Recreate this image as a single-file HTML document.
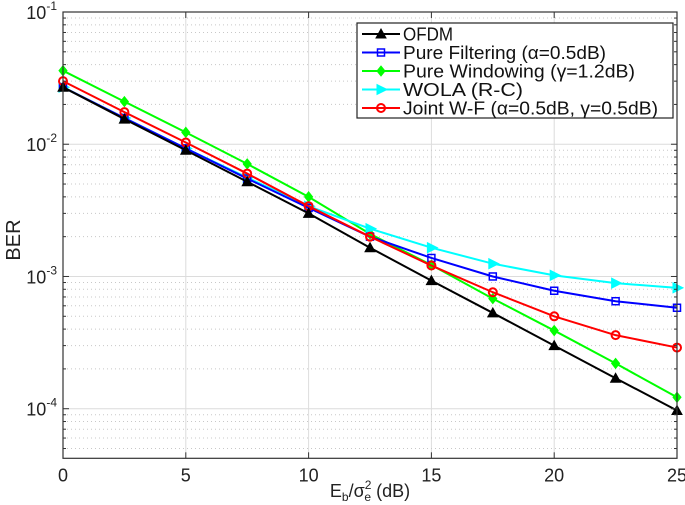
<!DOCTYPE html>
<html><head><meta charset="utf-8"><style>
body{margin:0;background:#fff;}
svg{display:block;font-family:"Liberation Sans",Arial,sans-serif;}
</style></head><body>
<svg id="chart" width="685" height="505" viewBox="0 0 685 505">
<g id="grid"></g>
<g id="series"></g>
<g id="axes"></g>
<g id="legend"></g>
</svg>
<script>
const xValues=[0,2.5,5,7.5,10,12.5,15,17.5,20,22.5,25];
const xTicks=[0,5,10,15,20,25];
const yTickExps=[-1,-2,-3,-4];
const ofdm=[0.027,0.0155,0.009,0.0052,0.003,0.00165,0.00093,0.00053,0.0003,0.00017,0.000097];
const filtering=[0.027,0.0158,0.0093,0.0055,0.0033,0.002,0.00138,0.001,0.00078,0.00065,0.00058];
const windowing=[0.036,0.021,0.0123,0.0071,0.004,0.0021,0.00122,0.00068,0.00039,0.00022,0.000122];
const wola=[0.027,0.0158,0.0093,0.0056,0.0034,0.0023,0.00165,0.00125,0.00102,0.00089,0.00082];
const joint=[0.030,0.0175,0.0103,0.006,0.0034,0.002,0.00121,0.00076,0.0005,0.00036,0.00029];
const seriesNames=["OFDM","Pure Filtering (α=0.5dB)","Pure Windowing (γ=1.2dB)","WOLA (R-C)","Joint W-F (α=0.5dB, γ=0.5dB)"];

const NS="http://www.w3.org/2000/svg";
const L=63,R=677,T=12,B=458.3;
const yMinLog=-4.375,yMaxLog=-1;
const xs=v=>L+(v-0)/(25-0)*(R-L);
const ys=v=>T+(yMaxLog-Math.log10(v))/(yMaxLog-yMinLog)*(B-T);
function mk(tag,attrs,parent){const e=document.createElementNS(NS,tag);for(const k in attrs)e.setAttribute(k,attrs[k]);parent.appendChild(e);return e;}
const grid=document.getElementById('grid'),axes=document.getElementById('axes'),sg=document.getElementById('series'),lg=document.getElementById('legend');
mk('rect',{x:L,y:T,width:R-L,height:B-T,fill:'#fff'},grid);
xTicks.forEach(t=>{const l=mk('line',{x1:xs(t),x2:xs(t),y1:T,y2:B,stroke:'#dcdcdc','stroke-width':1},grid);
});
for(let e=-5;e<=-1;e++){for(let m=1;m<10;m++){const v=m*Math.pow(10,e);const lv=Math.log10(v);if(lv<yMinLog-1e-9||lv>yMaxLog+1e-9)continue;const y=ys(v);
const l=mk('line',{x1:L,x2:R,y1:y,y2:y,stroke:m===1?'#dcdcdc':'#c8c8c8','stroke-width':1,'stroke-dasharray':m===1?'none':'1,3'},grid);

mk('line',{x1:L,x2:L+(m===1?6:3),y1:y,y2:y,stroke:'#333'},axes);mk('line',{x1:R,x2:R-(m===1?6:3),y1:y,y2:y,stroke:'#333'},axes);}}
mk('rect',{x:L,y:T,width:R-L,height:B-T,fill:'none',stroke:'#333','stroke-width':1.2},axes);
xTicks.forEach(t=>{const x=xs(t);mk('line',{x1:x,x2:x,y1:B,y2:B-6,stroke:'#333'},axes);mk('line',{x1:x,x2:x,y1:T,y2:T+6,stroke:'#333'},axes);
const tx=mk('text',{x:x,y:B+23,'font-size':18,'text-anchor':'middle',fill:'#222'},axes);tx.textContent=t;
});
yTickExps.forEach(e=>{const y=ys(Math.pow(10,e));const tx=mk('text',{x:L-6,y:y+7,'font-size':18,'text-anchor':'end',fill:'#222'},axes);
tx.innerHTML='10<tspan dy="-9" font-size="12">'+e+'</tspan>';});
const xl=mk('text',{x:(L+R)/2,y:497,'font-size':18,'text-anchor':'middle',fill:'#222'},axes);
xl.innerHTML='E<tspan dy="4" font-size="12">b</tspan><tspan dy="-4">/σ</tspan><tspan dy="-8" font-size="12">2</tspan><tspan dx="-7" dy="12" font-size="12">e</tspan><tspan dy="-4"> (dB)</tspan>';

const yl=mk('text',{x:0,y:0,'font-size':20,'text-anchor':'middle',fill:'#222',transform:'translate(20,240) rotate(-90)'},axes);yl.textContent='BER';


function marker(type,x,y,c,p){
 if(type==='tri')return mk('polygon',{points:`${x},${y-5} ${x-5},${y+4} ${x+5},${y+4}`,fill:c,stroke:c},p);
 if(type==='sq')return mk('rect',{x:x-3.5,y:y-3.5,width:7,height:7,fill:'none',stroke:c,'stroke-width':1.5},p);
 if(type==='dia')return mk('polygon',{points:`${x},${y-5} ${x+4},${y} ${x},${y+5} ${x-4},${y}`,fill:c,stroke:c},p);
 if(type==='rt')return mk('polygon',{points:`${x+6},${y} ${x-4},${y-5} ${x-4},${y+5}`,fill:c,stroke:c},p);
 return mk('circle',{cx:x,cy:y,r:4,fill:'none',stroke:c,'stroke-width':2},p);
}
const datasets=[[ofdm,'#000','tri','ofdm'],[filtering,'#0000ff','sq','pure-filtering'],[windowing,'#00ff00','dia','pure-windowing'],[wola,'#00ffff','rt','wola'],[joint,'#ff0000','circ','joint-wf']];
[2,3,1,4,0].forEach(i=>{const [d,c,m,n]=datasets[i];const g=mk('g',{},sg);

const pl=mk('polyline',{points:d.map((v,j)=>xs(xValues[j])+','+ys(v)).join(' '),fill:'none',stroke:c,'stroke-width':2},g);

d.forEach((v,j)=>{const mm=marker(m,xs(xValues[j]),ys(v),c,g);});});
const box=mk('rect',{x:357,y:23,width:316,height:95,fill:'#fff',stroke:'#222','stroke-width':1.2},lg);

const legendWidths=[50,203,232,120,255];
datasets.forEach((ds,i)=>{const y=34+i*18.5;const g=mk('g',{},lg);
mk('line',{x1:362,x2:400,y1:y,y2:y,stroke:ds[1],'stroke-width':2},g);marker(ds[2],381,y,ds[1],g);
const t=mk('text',{x:403,y:y+6.5,'font-size':18.5,fill:'#111',textLength:legendWidths[i],lengthAdjust:'spacingAndGlyphs'},g);t.textContent=seriesNames[i];});
</script>
</body></html>
